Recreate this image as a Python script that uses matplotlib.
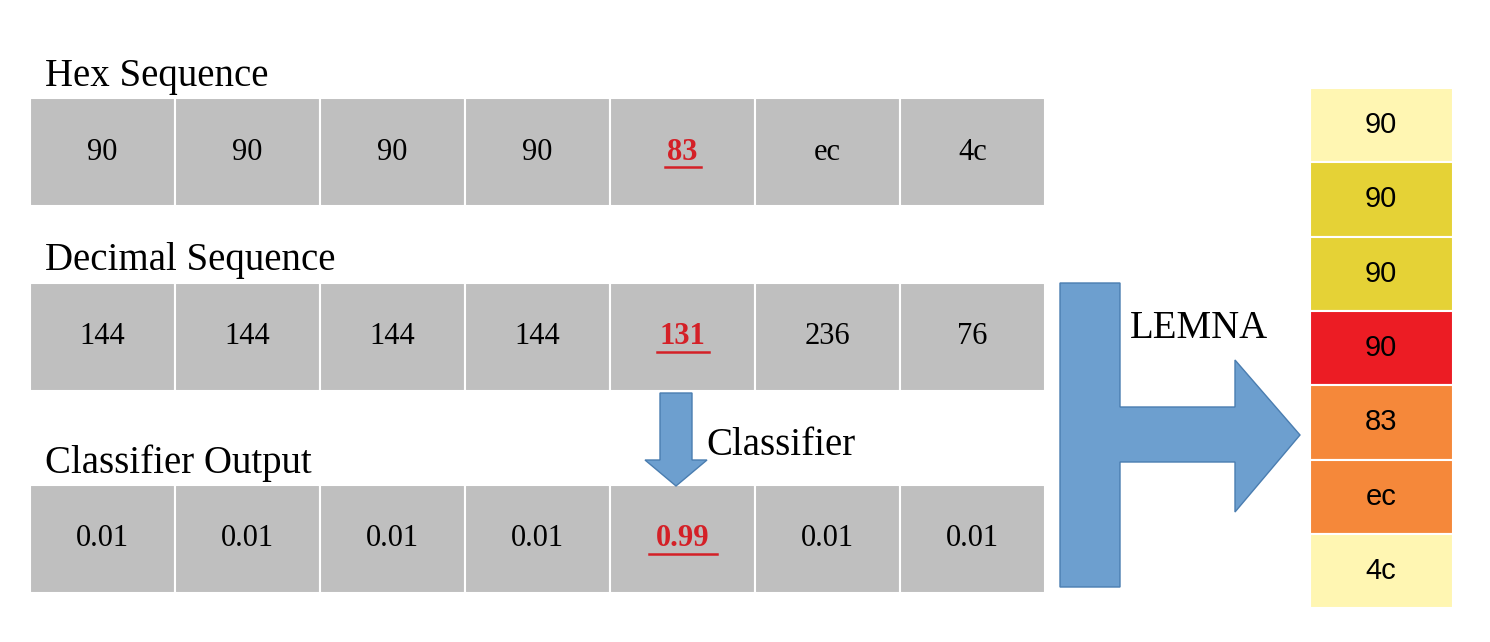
import matplotlib.pyplot as plt
from matplotlib.patches import Rectangle, Polygon

hex_vals = ["90", "90", "90", "90", "83", "ec", "4c"]
dec_vals = ["144", "144", "144", "144", "131", "236", "76"]
cls_vals = ["0.01", "0.01", "0.01", "0.01", "0.99", "0.01", "0.01"]
hot_idx = 4
lemna_vals = ["90", "90", "90", "90", "83", "ec", "4c"]
lemna_colors = ["#fff6b2", "#e5d236", "#e5d236", "#ec1c24", "#f5883a", "#f5883a", "#fff6b2"]

fig = plt.figure(figsize=(14.9, 6.42), dpi=100)
ax = fig.add_axes([0, 0, 1, 1])
ax.set_xlim(0, 1490)
ax.set_ylim(642, 0)
ax.axis("off")

serif = "Liberation Serif"
blue = "#6d9fcf"

def row(title, vals, ytop, title_y, x0=30, x1=1045, h=108):
    ax.text(45, title_y, title, family=serif, fontsize=28, va="baseline")
    w = (x1 - x0) / len(vals)
    for i, v in enumerate(vals):
        x = x0 + i * w
        ax.add_patch(Rectangle((x, ytop), w, h, fc="#bfbfbf", ec="white", lw=1.5))
        cx, cy = x + w / 2, ytop + h / 2
        if i == hot_idx:
            t = ax.text(cx, cy, v, family=serif, fontsize=22, weight="bold",
                        color="#d42027", ha="center", va="center")
            half = 8 * len(v) + 2
            ax.plot([cx - half, cx + half], [cy + 15, cy + 15], color="#d42027", lw=1.8)
        else:
            ax.text(cx, cy, v, family=serif, fontsize=22, ha="center", va="center")

row("Hex Sequence", hex_vals, 98, 86)
row("Decimal Sequence", dec_vals, 283, 270)
row("Classifier Output", cls_vals, 485, 473)

# small down arrow
ax.add_patch(Polygon([(660, 393), (692, 393), (692, 460), (707, 460), (676, 486),
                      (645, 460), (660, 460)], closed=True, fc=blue, ec="#4a7db0", lw=1))
ax.text(706, 455, "Classifier", family=serif, fontsize=28, va="baseline")

# big L arrow
ax.add_patch(Polygon([(1060, 283), (1120, 283), (1120, 407), (1235, 407), (1235, 360),
                      (1300, 435), (1235, 512), (1235, 462), (1120, 462), (1120, 587),
                      (1060, 587)], closed=True, fc=blue, ec="#4a7db0", lw=1))
ax.text(1130, 338, "LEMNA", family=serif, fontsize=28, va="baseline")

# LEMNA column
y0, hh = 88, 74.3
for i, (v, c) in enumerate(zip(lemna_vals, lemna_colors)):
    y = y0 + i * hh
    ax.add_patch(Rectangle((1310, y), 143, hh, fc=c, ec="white", lw=1.5))
    ax.text(1381, y + hh / 2, v, family="Liberation Sans", fontsize=21, ha="center", va="center")

fig.savefig("out.png", dpi=100)
